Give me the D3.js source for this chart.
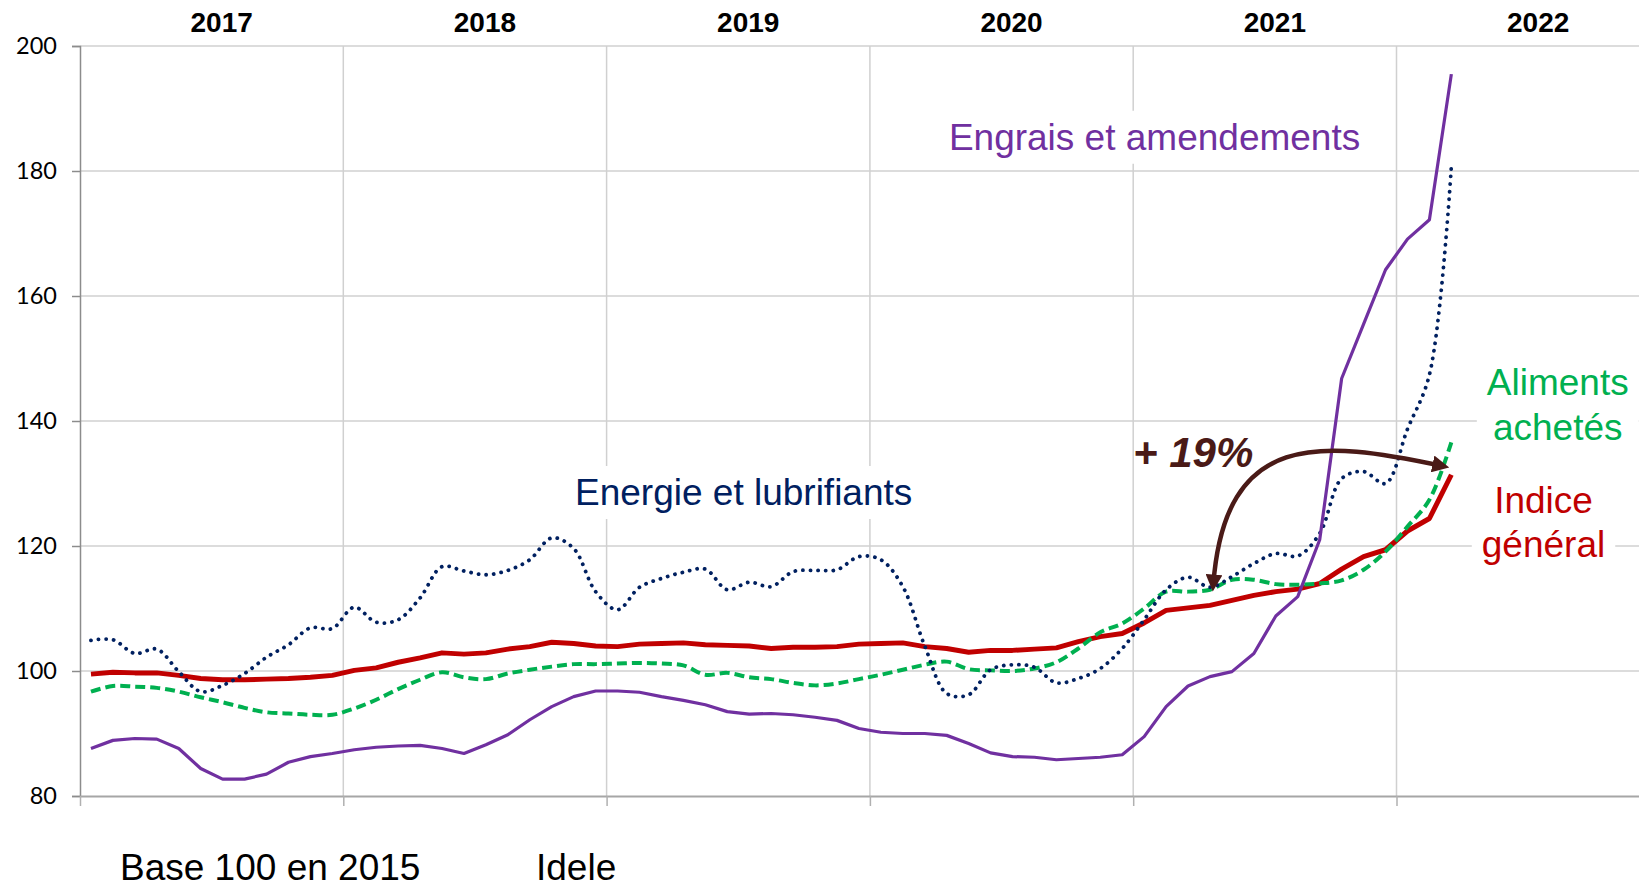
<!DOCTYPE html>
<html>
<head>
<meta charset="utf-8">
<script src="https://cdn.jsdelivr.net/npm/d3@7/dist/d3.min.js"></script>
<style>
  html, body { margin: 0; padding: 0; background: #fff; }
  svg { display: block; }
  text { font-family: 'Liberation Sans', Arial, sans-serif; }
</style>
</head>
<body>
<div id="chart"></div>
<script>
// monthly indices, Jan 2017 .. Mar 2022 (base 100 = 2015)
const years = ['2017', '2018', '2019', '2020', '2021', '2022'];
const yTicks = [80, 100, 120, 140, 160, 180, 200];

const indiceGeneral = [
  99.5, 99.8, 99.7, 99.7, 99.3, 98.8, 98.6, 98.6, 98.7, 98.8, 99.0, 99.3,
  100.1, 100.5, 101.4, 102.1, 102.9, 102.7, 102.9, 103.5, 103.9, 104.6, 104.4, 104.0,
  103.9, 104.3, 104.4, 104.5, 104.2, 104.1, 104.0, 103.6, 103.8, 103.8, 103.9, 104.3,
  104.4, 104.5, 103.9, 103.6, 103.0, 103.3, 103.3, 103.5, 103.7, 104.7, 105.5, 106.0,
  107.7, 109.7, 110.1, 110.5, 111.3, 112.1, 112.7, 113.1, 114.0, 116.3, 118.3, 119.4,
  122.4, 124.4, 131.4];

const alimentsAchetes = [
  96.7, 97.6, 97.5, 97.3, 96.7, 95.8, 95.0, 94.1, 93.4, 93.2, 93.0, 93.0,
  94.0, 95.4, 97.1, 98.6, 99.8, 99.0, 98.7, 99.6, 100.2, 100.7, 101.1, 101.1,
  101.2, 101.3, 101.2, 100.9, 99.4, 99.7, 99.0, 98.7, 98.1, 97.7, 98.0, 98.7,
  99.4, 100.2, 101.0, 101.5, 100.3, 100.1, 100.0, 100.4, 101.4, 103.6, 106.2, 107.6,
  110.0, 112.7, 112.7, 113.0, 114.6, 114.6, 113.9, 113.8, 114.0, 114.5, 116.2, 119.1,
  123.1, 127.4, 136.6];

const energieLubrifiants = [
  104.9, 105.0, 102.8, 103.5, 99.9, 96.7, 97.7, 99.6, 102.2, 104.2, 106.9, 106.8,
  110.2, 107.8, 108.2, 111.7, 116.7, 116.0, 115.4, 116.1, 117.8, 121.3, 119.6, 112.7,
  109.8, 113.4, 114.8, 115.8, 116.3, 113.0, 114.2, 113.5, 115.9, 116.1, 116.2, 118.3,
  117.8, 113.5, 104.0, 96.4, 96.2, 100.2, 101.0, 100.6, 98.1, 98.8, 100.4, 103.6,
  108.2, 113.0, 115.0, 113.4, 115.1, 117.2, 118.8, 118.4, 122.0, 130.8, 131.9, 130.0,
  138.7, 147.4, 180.7];

const engraisAmendements = [
  87.6, 88.9, 89.2, 89.1, 87.6, 84.4, 82.7, 82.7, 83.5, 85.4, 86.3, 86.8,
  87.4, 87.8, 88.0, 88.1, 87.6, 86.8, 88.2, 89.8, 92.2, 94.3, 95.9, 96.8,
  96.8, 96.6, 95.9, 95.3, 94.6, 93.5, 93.1, 93.2, 93.0, 92.6, 92.1, 90.8,
  90.2, 90.0, 90.0, 89.7, 88.4, 86.9, 86.3, 86.2, 85.8, 86.0, 86.2, 86.6,
  89.5, 94.3, 97.6, 99.1, 99.9, 102.8, 108.8, 111.9, 121.0, 146.8, 155.5, 164.2,
  169.1, 172.2, 195.5];

const width = 1639;
const height = 889;
const margin = { top: 46, left: 80, bottom: 93 };
const yearWidth = 263.3;

const svg = d3.select('#chart').append('svg')
  .attr('width', width)
  .attr('height', height);

// x in months since Jan 2017, points sit at the middle of each month
const x = d3.scaleLinear()
  .domain([0, years.length * 12])
  .range([margin.left, margin.left + yearWidth * years.length]);

const y = d3.scaleLinear()
  .domain([80, 200])
  .range([height - margin.bottom, margin.top]);

// grid
svg.append('g').selectAll('line.h')
  .data(yTicks.slice(1))
  .join('line')
  .attr('x1', margin.left).attr('x2', width)
  .attr('y1', (d) => y(d)).attr('y2', (d) => y(d))
  .attr('stroke', '#d0d0d0').attr('stroke-width', 1.5);

svg.append('g').selectAll('line.v')
  .data(d3.range(12, years.length * 12, 12))
  .join('line')
  .attr('x1', (d) => x(d)).attr('x2', (d) => x(d))
  .attr('y1', y(200)).attr('y2', y(80))
  .attr('stroke', '#d0d0d0').attr('stroke-width', 1.5);

// axes
const yAxis = d3.axisLeft(y).tickValues(yTicks).tickSize(8).tickPadding(15);
const gy = svg.append('g')
  .attr('transform', `translate(${margin.left},0)`)
  .call(yAxis);
gy.select('.domain').attr('stroke', '#8c8c8c').attr('stroke-width', 1.5);
gy.selectAll('.tick line').attr('stroke', '#8c8c8c').attr('stroke-width', 1.5);
gy.selectAll('.tick text')
  .style('font-family', 'Lato, "Open Sans", sans-serif')
  .style('font-size', '23.5px')
  .attr('fill', '#000');

const xAxis = d3.axisBottom(x).tickValues(d3.range(0, years.length * 12 + 1, 12))
  .tickSize(10).tickSizeOuter(0).tickFormat('');
const gx = svg.append('g')
  .attr('transform', `translate(0,${y(80)})`)
  .call(xAxis);
gx.select('.domain').attr('stroke', '#a6a6a6').attr('stroke-width', 2.2);
gx.selectAll('.tick line').attr('stroke', '#b0b0b0').attr('stroke-width', 1.5);

// year labels on top
svg.append('g').selectAll('text')
  .data(years)
  .join('text')
  .attr('x', (d, i) => x(i * 12 + 6) + 10)
  .attr('y', 31.5)
  .attr('text-anchor', 'middle')
  .style('font-size', '28px')
  .style('font-weight', 'bold')
  .attr('fill', '#000')
  .text((d) => d);

// series
const series = [
  { values: indiceGeneral, color: '#c00000', width: 5, dash: null, cap: 'butt', curve: d3.curveLinear },
  { values: alimentsAchetes, color: '#00b050', width: 4, dash: '10,5', cap: 'butt', curve: d3.curveCatmullRom },
  { values: energieLubrifiants, color: '#002060', width: 3.8, dash: '0.1,7.5', cap: 'round', curve: d3.curveCatmullRom },
  { values: engraisAmendements, color: '#7030a0', width: 3.2, dash: null, cap: 'butt', curve: d3.curveLinear }
];

series.forEach((s) => {
  const line = d3.line()
    .x((d, i) => x(i + 0.5))
    .y((d) => y(d))
    .curve(s.curve);
  svg.append('path')
    .datum(s.values)
    .attr('d', line)
    .attr('fill', 'none')
    .attr('stroke', s.color)
    .attr('stroke-width', s.width)
    .attr('stroke-linejoin', 'round')
    .attr('stroke-linecap', s.cap)
    .attr('stroke-dasharray', s.dash);
});

// text boxes (white background like the source)
function label(lines, m, v, color, anchor, lineGap) {
  const g = svg.append('g');
  const rect = g.append('rect').attr('fill', '#fff');
  const t = g.append('text')
    .attr('text-anchor', anchor)
    .style('font-size', '37px')
    .attr('fill', color);
  lines.forEach((l, i) => {
    t.append('tspan')
      .attr('x', x(m))
      .attr('y', y(v) + i * lineGap)
      .text(l);
  });
  const b = t.node().getBBox();
  rect.attr('x', b.x - 10).attr('y', b.y - 6)
    .attr('width', b.width + 20).attr('height', b.height + 12);
}

label(['Engrais et amendements'], 39.6, 183.4, '#7030a0', 'start', 0);
label(['Energie et lubrifiants'], 22.56, 126.56, '#002060', 'start', 0);
label(['Aliments', 'achetés'], 67.35, 144.1, '#00b050', 'middle', 44.5);
label(['Indice', 'général'], 66.7, 125.3, '#c00000', 'middle', 44);

// +19% arrow
const arrowColor = '#4a1a17';
svg.append('defs').append('marker')
  .attr('id', 'head')
  .attr('viewBox', '0 0 10 10')
  .attr('refX', 6)
  .attr('refY', 5)
  .attr('markerUnits', 'userSpaceOnUse')
  .attr('markerWidth', 17)
  .attr('markerHeight', 17)
  .attr('orient', 'auto-start-reverse')
  .append('path')
  .attr('d', 'M0,0 L10,5 L0,10 z')
  .attr('fill', arrowColor);

const arrowPts = [[51.65, 113.8], [52.18, 138.6], [56.51, 137.0], [62.1, 132.8]];
const p = d3.path();
p.moveTo(x(arrowPts[0][0]), y(arrowPts[0][1]));
p.bezierCurveTo(
  x(arrowPts[1][0]), y(arrowPts[1][1]),
  x(arrowPts[2][0]), y(arrowPts[2][1]),
  x(arrowPts[3][0]), y(arrowPts[3][1]));
svg.append('path')
  .attr('d', p.toString())
  .attr('fill', 'none')
  .attr('stroke', arrowColor)
  .attr('stroke-width', 4.5)
  .attr('marker-start', 'url(#head)')
  .attr('marker-end', 'url(#head)');

svg.append('text')
  .attr('x', x(47.99))
  .attr('y', y(132.7))
  .style('font-size', '42px')
  .style('font-weight', 'bold')
  .style('font-style', 'italic')
  .attr('fill', arrowColor)
  .text('+ 19%');

// footer
svg.append('text')
  .attr('x', 120).attr('y', 880)
  .style('font-size', '37px')
  .attr('fill', '#000')
  .text('Base 100 en 2015');
svg.append('text')
  .attr('x', 536).attr('y', 880)
  .style('font-size', '37px')
  .attr('fill', '#000')
  .text('Idele');
</script>
</body>
</html>
